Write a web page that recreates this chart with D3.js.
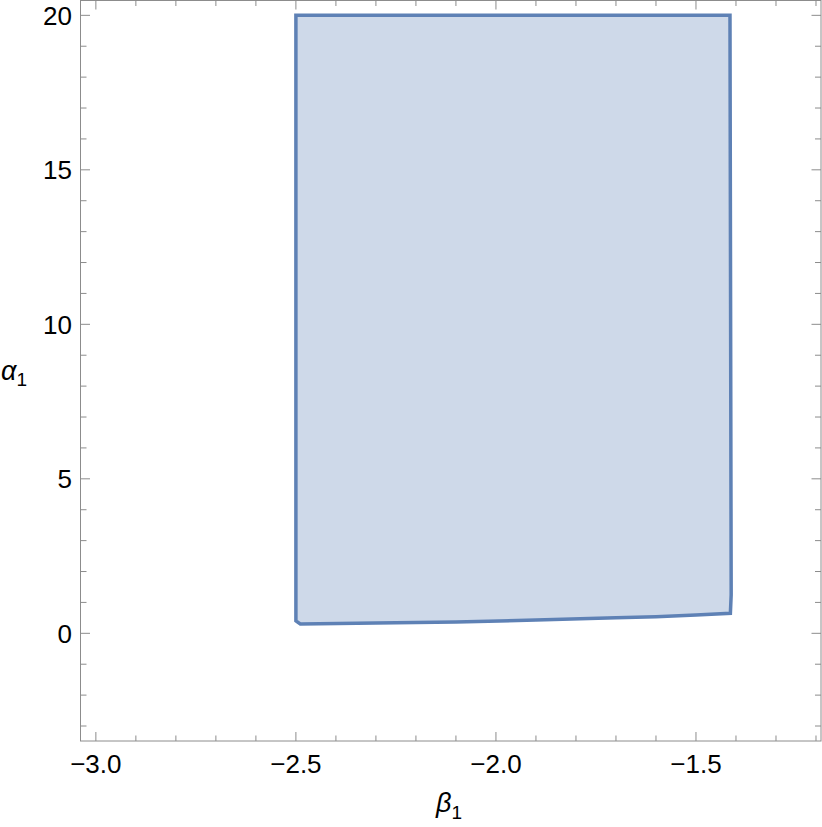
<!DOCTYPE html>
<html>
<head>
<meta charset="utf-8">
<script src="https://cdn.jsdelivr.net/npm/d3@7"></script>
<style>
  body { margin: 0; background: #fff; }
  svg { display: block; }
  text { font-family: "Liberation Sans", Arial, sans-serif; fill: #000; }
</style>
</head>
<body>
<div id="plot"></div>
<script>
// region boundary (beta1, alpha1)
var beta = [-2.5, -2.5, -2.489, -2.3, -2.1, -1.9, -1.7, -1.6, -1.5, -1.414, -1.412, -1.415];
var alpha = [20, 0.40, 0.30, 0.33, 0.37, 0.43, 0.50, 0.54, 0.59, 0.65, 1.25, 20];

// tick values
var xMajor = [-3.0, -2.5, -2.0, -1.5];
var yMajor = [0, 5, 10, 15, 20];
var xMinor = d3.range(-30, -11).map(function (d) { return d / 10; });
var yMinor = d3.range(-3, 21);

var W = 822, H = 827;
var plotL = 80.5, plotR = 821, plotT = 0.5, plotB = 741;

var x = d3.scaleLinear().domain([-3.0384, -1.1875]).range([plotL, plotR]);
var y = d3.scaleLinear().domain([-3.485, 20.48]).range([plotB, plotT]);

var svg = d3.select("#plot").append("svg")
  .attr("width", W)
  .attr("height", H);

var pts = beta.map(function (b, i) { return [b, alpha[i]]; });

// filled region
svg.append("path")
  .datum(pts)
  .attr("d", d3.line().x(function (d) { return x(d[0]); }).y(function (d) { return y(d[1]); }).curve(d3.curveLinearClosed))
  .attr("fill", "#5e81b5")
  .attr("fill-opacity", 0.3)
  .attr("stroke", "#5e81b5")
  .attr("stroke-width", 3.5)
  .attr("stroke-linejoin", "miter");

// frame
var frameCol = "#8c8c8c";
svg.append("rect")
  .attr("x", plotL).attr("y", plotT)
  .attr("width", plotR - plotL).attr("height", plotB - plotT)
  .attr("fill", "none").attr("stroke", frameCol).attr("stroke-width", 1);

function isMajor(v, list) {
  return list.some(function (m) { return Math.abs(m - v) < 1e-9; });
}

// x ticks, bottom and top, pointing inward
var xt = svg.append("g").attr("stroke", frameCol).attr("stroke-width", 1);
xMinor.forEach(function (v) {
  var len = isMajor(v, xMajor) ? 9 : 5.5;
  xt.append("line").attr("x1", x(v)).attr("x2", x(v)).attr("y1", plotB).attr("y2", plotB - len);
  xt.append("line").attr("x1", x(v)).attr("x2", x(v)).attr("y1", plotT).attr("y2", plotT + len);
});

// y ticks, left and right
var yt = svg.append("g").attr("stroke", frameCol).attr("stroke-width", 1);
yMinor.forEach(function (v) {
  var len = isMajor(v, yMajor) ? 9.5 : 6;
  yt.append("line").attr("y1", y(v)).attr("y2", y(v)).attr("x1", plotL).attr("x2", plotL + len);
  yt.append("line").attr("y1", y(v)).attr("y2", y(v)).attr("x1", plotR).attr("x2", plotR - len);
});

// tick labels
function fmt(v) {
  var s = Math.abs(v).toFixed(1);
  return (v < 0 ? "\u2212" : "") + s;
}
svg.append("g").selectAll("text")
  .data(xMajor)
  .enter().append("text")
  .attr("x", function (d) { return x(d); })
  .attr("y", 773)
  .attr("text-anchor", "middle")
  .style("font-size", "26px")
  .text(fmt);

svg.append("g").selectAll("text")
  .data(yMajor)
  .enter().append("text")
  .attr("x", 72)
  .attr("y", function (d) { return y(d); })
  .attr("dy", "0.36em")
  .attr("text-anchor", "end")
  .style("font-size", "26px")
  .text(function (d) { return d; });

// axis labels
var xl = svg.append("text")
  .attr("x", 436)
  .attr("y", 812)
  .style("font-size", "27px");
xl.append("tspan").style("font-style", "italic").text("\u03b2");
xl.append("tspan").attr("dy", 7).style("font-size", "19px").text("1");

var yl = svg.append("text")
  .attr("x", 1)
  .attr("y", 380)
  .style("font-size", "27px");
yl.append("tspan").style("font-style", "italic").text("\u03b1");
yl.append("tspan").attr("dy", 6).style("font-size", "19px").text("1");
</script>
</body>
</html>
